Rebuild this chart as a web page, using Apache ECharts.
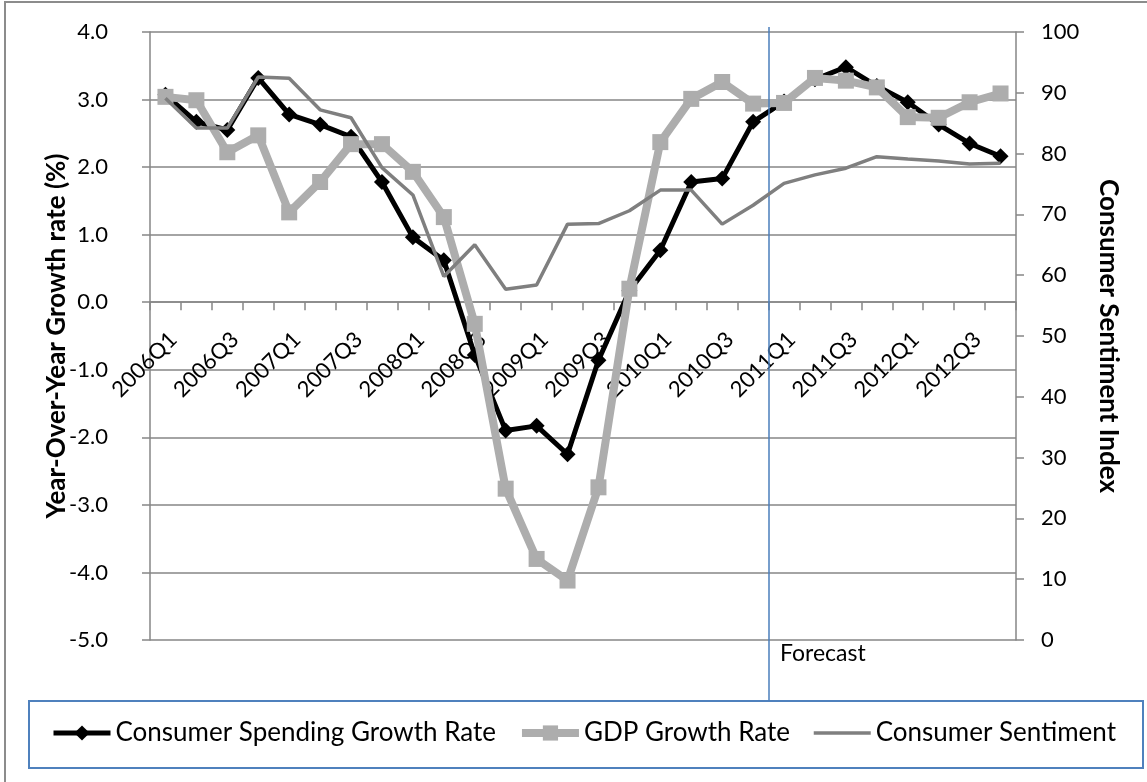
<!DOCTYPE html>
<html>
<head>
<meta charset="utf-8">
<script src="https://cdn.jsdelivr.net/npm/echarts@6/dist/echarts.min.js"></script>
<style>html,body{margin:0;padding:0;background:#fff;}#chart{width:1147px;height:782px;}</style>
</head>
<body>
<div id="chart"></div>
<script>
const categories = ['2006Q1','2006Q2','2006Q3','2006Q4','2007Q1','2007Q2','2007Q3','2007Q4',
  '2008Q1','2008Q2','2008Q3','2008Q4','2009Q1','2009Q2','2009Q3','2009Q4',
  '2010Q1','2010Q2','2010Q3','2010Q4','2011Q1','2011Q2','2011Q3','2011Q4',
  '2012Q1','2012Q2','2012Q3','2012Q4'];
const spendingGrowth = [3.07, 2.67, 2.55, 3.32, 2.78, 2.63, 2.45, 1.78, 0.96, 0.62, -0.78, -1.90, -1.83, -2.25,
  -0.86, 0.17, 0.77, 1.78, 1.83, 2.67, 2.97, 3.30, 3.48, 3.20, 2.96, 2.63, 2.35, 2.16];
const gdpGrowth = [3.04, 2.99, 2.22, 2.47, 1.33, 1.78, 2.34, 2.34, 1.93, 1.26, -0.32, -2.76, -3.80, -4.12,
  -2.74, 0.20, 2.37, 3.01, 3.26, 2.94, 2.95, 3.32, 3.28, 3.18, 2.74, 2.73, 2.96, 3.09];
const sentiment = [89.1, 84.2, 84.2, 92.6, 92.4, 87.2, 85.9, 77.7, 73.2, 59.8, 65.0, 57.7, 58.4, 68.4,
  68.5, 70.6, 74.0, 74.0, 68.4, 71.5, 75.1, 76.5, 77.6, 79.5, 79.1, 78.8, 78.3, 78.4];
const seriesNames = ['Consumer Spending Growth Rate', 'GDP Growth Rate', 'Consumer Sentiment'];
const leftMin = -5, leftMax = 4, leftStep = 1;
const rightMin = 0, rightMax = 100, rightStep = 10;
const forecastStartIndex = 20; // boundary before 2011Q1

const FONT = 'Lato';
const GRAY = '#868686';
const GRID = {left: 150, right: 131, top: 32, bottom: 142};
const plotHeight = 782 - GRID.top - GRID.bottom;
// category axis sits at value 0 of the left axis
const zeroOffset = -plotHeight * (0 - leftMin) / (leftMax - leftMin);

const chart = echarts.init(document.getElementById('chart'), null, {renderer: 'canvas'});
chart.setOption({
  animation: false,
  backgroundColor: '#fff',
  grid: Object.assign({containLabel: false}, GRID),
  legend: {
    data: [
      {name: seriesNames[0], lineStyle: {width: 5, color: '#000'}, itemStyle: {color: '#000'}},
      {name: seriesNames[1], lineStyle: {width: 8, color: '#ADADAD'}, itemStyle: {color: '#ADADAD'}},
      {name: seriesNames[2], lineStyle: {width: 3.5, color: '#7F7F7F'}, itemStyle: {opacity: 0}}
    ],
    left: 51, top: 720,
    itemWidth: 57, itemHeight: 19, itemGap: 22, padding: 0,
    textStyle: {fontFamily: FONT, fontSize: 26, color: '#000'}
  },
  xAxis: [{
    type: 'category',
    data: categories,
    boundaryGap: true,
    position: 'bottom',
    offset: zeroOffset,
    axisLine: {onZero: false, lineStyle: {color: GRAY, width: 1.5}},
    axisTick: {show: true, interval: 0, length: 8, inside: false, lineStyle: {color: GRAY, width: 1.5}},
    axisLabel: {interval: 1, rotate: 45, align: 'right', verticalAlign: 'top', margin: 26,
      fontFamily: FONT, fontSize: 22, color: '#000'},
    splitLine: {show: false}
  }, {
    type: 'value', min: 0, max: categories.length, show: false
  }],
  yAxis: [{
    type: 'value', min: leftMin, max: leftMax, interval: leftStep, position: 'left',
    name: 'Year-Over-Year Growth rate (%)', nameLocation: 'middle', nameGap: 80, nameRotate: 90,
    nameMoveOverlap: false,
    nameTextStyle: {fontFamily: FONT, fontSize: 26, fontWeight: 'bold', color: '#000'},
    axisLine: {show: true, onZero: false, lineStyle: {color: GRAY, width: 1.5}},
    axisTick: {show: true, length: 8, lineStyle: {color: GRAY, width: 1.5}},
    axisLabel: {margin: 42, fontFamily: FONT, fontSize: 22, color: '#000', formatter: v => v.toFixed(1)},
    splitLine: {show: true, lineStyle: {color: GRAY, width: 1.5}}
  }, {
    type: 'value', min: rightMin, max: rightMax, interval: rightStep, position: 'right',
    name: 'Consumer Sentiment Index', nameLocation: 'middle', nameGap: 79, nameRotate: -90,
    nameMoveOverlap: false,
    nameTextStyle: {fontFamily: FONT, fontSize: 26, fontWeight: 'bold', color: '#000'},
    axisLine: {show: true, onZero: false, lineStyle: {color: GRAY, width: 1.5}},
    axisTick: {show: true, length: 8, lineStyle: {color: GRAY, width: 1.5}},
    axisLabel: {margin: 25, fontFamily: FONT, fontSize: 22, color: '#000'},
    splitLine: {show: false}
  }],
  series: [{
    name: seriesNames[0], type: 'line', xAxisIndex: 0, yAxisIndex: 0, data: spendingGrowth,
    symbol: 'diamond', symbolSize: 16, showAllSymbol: true,
    lineStyle: {color: '#000', width: 5}, itemStyle: {color: '#000'}, z: 3
  }, {
    name: seriesNames[1], type: 'line', xAxisIndex: 0, yAxisIndex: 0, data: gdpGrowth,
    symbol: 'rect', symbolSize: 16, showAllSymbol: true,
    lineStyle: {color: '#ADADAD', width: 8}, itemStyle: {color: '#ADADAD'}, z: 4
  }, {
    name: seriesNames[2], type: 'line', xAxisIndex: 0, yAxisIndex: 1, data: sentiment,
    symbol: 'none', showSymbol: false,
    lineStyle: {color: '#7F7F7F', width: 3.5}, itemStyle: {color: '#7F7F7F'}, z: 5
  }, {
    name: 'forecastMarker', type: 'line', xAxisIndex: 1, yAxisIndex: 0, data: [], clip: false,
    markLine: {
      silent: true, symbol: 'none', animation: false,
      label: {show: false},
      lineStyle: {color: '#4A7EBB', width: 1.5, type: 'solid'},
      data: [[{xAxis: forecastStartIndex, y: 27}, {xAxis: forecastStartIndex, y: 701}]]
    }
  }],
  graphic: [
    {type: 'rect', z: -10, shape: {x: 5, y: 2, width: 1170, height: 820},
      style: {fill: 'none', stroke: '#8C8C8C', lineWidth: 2}},
    {type: 'rect', z: -5, shape: {x: 29, y: 701, width: 1114, height: 67},
      style: {fill: '#fff', stroke: '#4F81BD', lineWidth: 2}},
    {type: 'text', left: 780, top: 642,
      style: {text: 'Forecast', fontFamily: FONT, fontSize: 23, fill: '#000'}}
  ]
});
</script>
</body>
</html>
